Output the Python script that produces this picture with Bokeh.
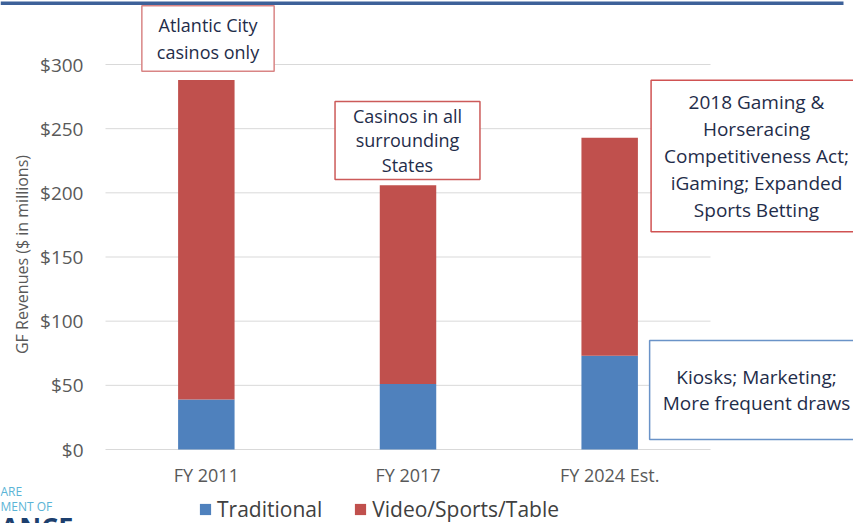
from bokeh.plotting import figure
from bokeh.models import (ColumnDataSource, Range1d, NumeralTickFormatter,
                          Label, Legend, LegendItem, BoxAnnotation, FixedTicker)
from bokeh.core.properties import value
from bokeh.embed import file_html
from bokeh.resources import INLINE

# ---- data ----
years = ["FY 2011", "FY 2017", "FY 2024 Est."]
traditional = [39, 51, 73]
video_sports_table = [249, 155, 170]
series = ["Traditional", "Video/Sports/Table"]
y_ticks = [0, 50, 100, 150, 200, 250, 300]
y_title = "GF Revenues ($ in millions)"

notes = ["Atlantic City\ncasinos only",
         "Casinos in all\nsurrounding\nStates",
         "2018 Gaming &\nHorseracing\nCompetitiveness Act;\niGaming; Expanded\nSports Betting",
         "Kiosks; Marketing;\nMore frequent draws"]

# ---- layout / style ----
W, H = 853, 523
X0, BAND = 105, 201.67          # pixel of category-axis origin, pixels per category
Y0, PPU = 449, 385 / 300        # pixel of $0, pixels per $1M
def px2x(px): return (px - X0) / BAND
def px2y(py): return (Y0 - py) / PPU

colors = ["#4f81bd", "#c0504d"]
FONT = "Open Sans"
note_cx = [207.5, 407, 756, 756]
note_cy = [38, 140, 155.5, 389.5]
note_fs = ["18px", "18px", "19px", "19px"]
note_border = ["#d98585", "#cc5a59", "#d05252", "#6a93c8"]
note_pad = [(15, 7), (18, 2), (13, 9), (13, 24)]
note_lh = [1.14, 1.04, 1.033, 0.965]

xs = [i + 0.5 for i in range(len(years))]
src = ColumnDataSource(data={"x": xs, "trad": traditional, "vst": video_sports_table})

p = figure(width=W, height=H, x_range=Range1d(px2x(0), px2x(W)), y_range=Range1d(px2y(H), px2y(0)),
           output_backend="svg", toolbar_location=None,
           min_border_left=0, min_border_right=0, min_border_top=0, min_border_bottom=0)
p.outline_line_color = None
p.xgrid.visible = False
p.ygrid.visible = False

# gridlines spanning the category area only
p.segment(x0=0, x1=len(years), y0=y_ticks, y1=y_ticks, line_color="#d9d9d9", line_width=1)

rs = p.vbar_stack(["trad", "vst"], x="x", width=0.28, color=colors, source=src, line_width=0)

p.yaxis.fixed_location = 0
p.yaxis.ticker = FixedTicker(ticks=y_ticks)
p.yaxis.formatter = NumeralTickFormatter(format="$0")
p.yaxis.axis_line_color = None
p.yaxis.major_tick_line_color = None
p.yaxis.minor_tick_line_color = None
p.yaxis.major_tick_out = 0
p.yaxis.minor_tick_out = 0
p.yaxis.major_label_standoff = 22
p.yaxis.major_label_text_font = FONT
p.yaxis.major_label_text_font_size = "19px"
p.yaxis.major_label_text_color = "#595959"

p.xaxis.fixed_location = 0
p.xaxis.ticker = FixedTicker(ticks=xs)
p.xaxis.major_label_overrides = {x: y for x, y in zip(xs, years)}
p.xaxis.axis_line_color = None
p.xaxis.major_tick_line_color = None
p.xaxis.minor_tick_line_color = None
p.xaxis.major_tick_out = 0
p.xaxis.minor_tick_out = 0
p.xaxis.major_label_standoff = 13
p.xaxis.major_label_text_font = FONT
p.xaxis.major_label_text_font_size = "18px"
p.xaxis.major_label_text_color = "#595959"

# y-axis title
p.add_layout(Label(x=px2x(21), y=px2y(254), text=y_title, angle=90, angle_units="deg",
                   text_align="center", text_baseline="middle", text_font=FONT,
                   text_font_size="16px", text_color="#595959"))

legend = Legend(items=[LegendItem(label=value(s), renderers=[r]) for s, r in zip(series, rs)],
                orientation="horizontal", location=(198, 0), padding=0, margin=0,
                spacing=31, label_standoff=5, glyph_width=14, glyph_height=14,
                label_text_font=FONT, label_text_font_size="21px", label_text_color="#404040",
                border_line_color=None, background_fill_alpha=0)
p.add_layout(legend, "center")

for t, cx, cy, fs, bc, pad, lh in zip(notes, note_cx, note_cy, note_fs, note_border, note_pad, note_lh):
    p.add_layout(Label(x=px2x(cx), y=px2y(cy), text=t, text_align="center", text_baseline="middle",
                       text_font=FONT, text_font_size=fs, text_color="#1f2d4a",
                       text_line_height=lh, padding=pad,
                       border_line_color=bc, border_line_width=1.5,
                       background_fill_color="white"))

# top rule
p.add_layout(BoxAnnotation(left=px2x(0), right=px2x(843), top=px2y(1), bottom=px2y(4.5),
                           fill_color="#3d6199", fill_alpha=1, line_color=None))

# cropped logo fragments
p.add_layout(Label(x=px2x(0), y=px2y(482), text="ARE", text_font=FONT, text_font_size="12px",
                   text_color="#5ab4d6", text_baseline="top"))
p.add_layout(Label(x=px2x(0), y=px2y(497), text="MENT OF", text_font=FONT, text_font_size="12px",
                   text_color="#5ab4d6", text_baseline="top"))
p.add_layout(Label(x=px2x(0), y=px2y(507), text="ANCE", text_font=FONT, text_font_size="27px",
                   text_font_style="bold", text_color="#1d3f6e", text_baseline="top"))

open("out.html", "w").write(file_html(p, INLINE))
